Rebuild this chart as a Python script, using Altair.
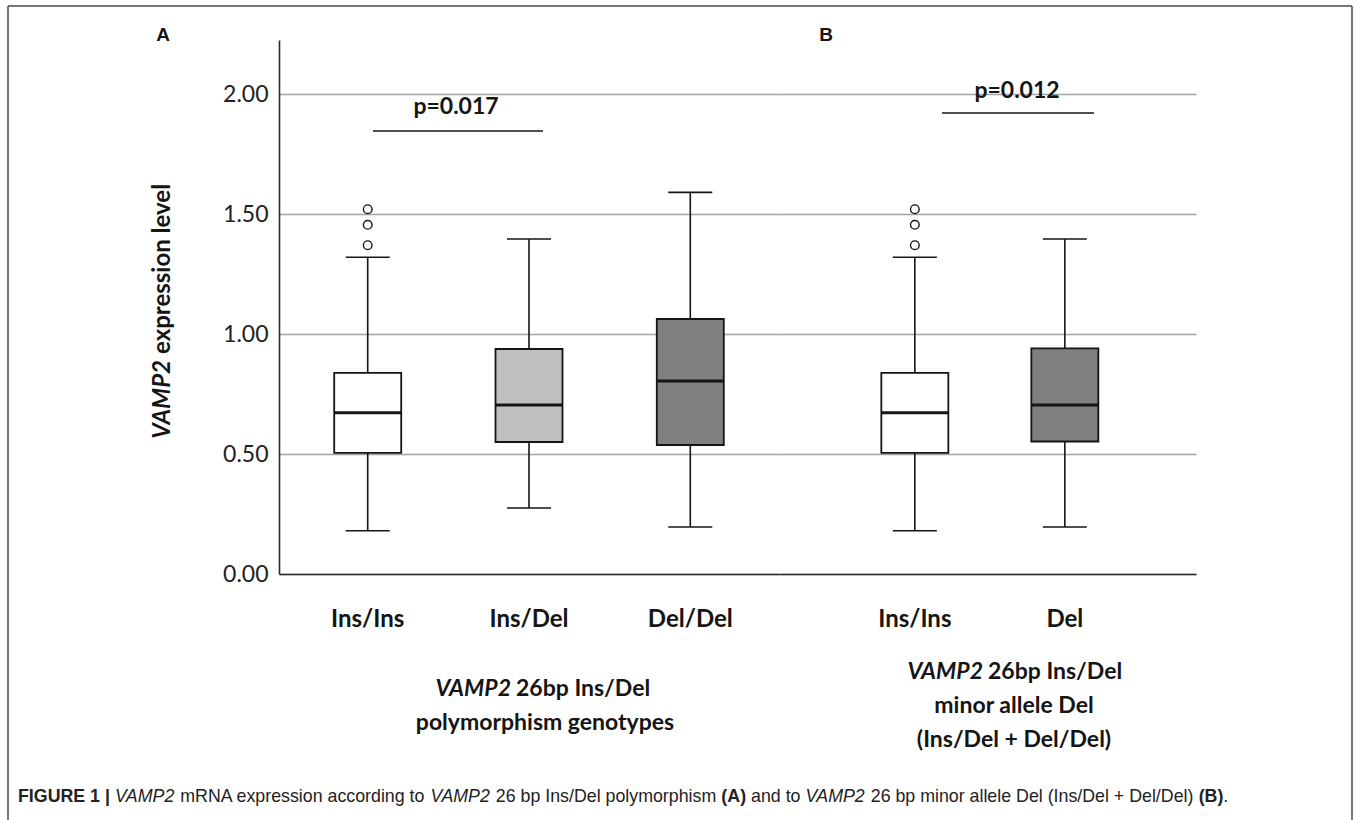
import altair as alt
import pandas as pd

# ---------------- data ----------------
a_groups = ["Ins/Ins", "Ins/Del", "Del/Del"]
a_lower = [0.18, 0.275, 0.196]
a_q1 = [0.505, 0.55, 0.5375]
a_median = [0.672, 0.704, 0.804]
a_q3 = [0.838, 0.9375, 1.0625]
a_upper = [1.32, 1.396, 1.59]
a_outlier_group = ["Ins/Ins", "Ins/Ins", "Ins/Ins"]
a_outlier_value = [1.37, 1.455, 1.52]

b_groups = ["Ins/Ins", "Del"]
b_lower = [0.18, 0.196]
b_q1 = [0.505, 0.552]
b_median = [0.672, 0.704]
b_q3 = [0.838, 0.94]
b_upper = [1.32, 1.396]
b_outlier_group = ["Ins/Ins", "Ins/Ins", "Ins/Ins"]
b_outlier_value = [1.37, 1.455, 1.52]

y_ticks = [0.0, 0.5, 1.0, 1.5, 2.0]
p_labels = ["p=0.017", "p=0.012"]
p_bar_y = [1.846, 1.921]
p_text_y = [1.946, 2.0125]

caption_texts = ["FIGURE 1 | ", "VAMP2", " mRNA expression according to ", "VAMP2",
                 " 26 bp Ins/Del polymorphism ", "(A)", " and to ", "VAMP2",
                 " 26 bp minor allele Del (Ins/Del + Del/Del) ", "(B)", "."]
caption_kind = ["b", "i", "r", "i", "r", "b", "r", "i", "r", "b", "r"]

# ---------------- styling ----------------
A_COLORS = ["#ffffff", "#c0c0c0", "#7f7f7f"]
B_COLORS = ["#ffffff", "#7f7f7f"]
INK = "#151515"
GRID = "#a3a3a3"
W_A, W_B, H = 500, 417, 534
OX, OY = 279, 40  # page offset of panel A plot origin

yscale = alt.Scale(domain=[0, 2.225], nice=False, zero=True)

# Arial / Liberation Sans advance widths (per 1000 em)
REG = {" ": 278, "(": 333, ")": 333, "+": 584, ".": 278, "/": 278, "|": 260,
       "1": 556, "2": 556, "6": 556, "A": 667, "B": 667, "D": 722, "E": 667,
       "F": 611, "G": 778, "I": 278, "M": 833, "N": 722, "P": 667, "R": 722,
       "U": 722, "V": 667, "a": 556, "b": 556, "c": 500, "d": 556, "e": 556,
       "g": 556, "h": 556, "i": 222, "l": 222, "m": 833, "n": 556, "o": 556,
       "p": 556, "r": 333, "s": 500, "t": 278, "x": 500, "y": 500}
BOLD = dict(REG)
BOLD.update({"|": 280, "A": 722, "B": 722, "R": 722, "U": 722, "G": 778, "F": 611})


def twidth(s, kind, size):
    tab = BOLD if kind == "b" else REG
    return sum(tab.get(c, 556) for c in s) * size / 1000.0


def txt(text, x, y, size=23, weight="bold", style="normal", align="center",
        font="Lato", angle=0, dx=0, color=INK):
    kw = dict(font=font, fontSize=size, fontWeight=weight, fontStyle=style,
              align=align, baseline="middle", color=color, dx=dx)
    if angle:
        kw["angle"] = angle
    return alt.Chart(pd.DataFrame({"t": [text]})).mark_text(**kw).encode(
        x=alt.value(x), y=alt.value(y), text="t:N")


def panel(groups, lower, q1, med, q3, upper, og, ov, colors, width, pad_outer,
          align, show_y):
    df = pd.DataFrame({"g": groups, "lower": lower, "q1": q1, "med": med,
                       "q3": q3, "upper": upper})
    odf = pd.DataFrame({"g": og, "v": ov})
    xaxis = alt.Axis(title=None, labelAngle=0, ticks=False, grid=False,
                     domainColor="#2a2a2a", domainWidth=1.6, labelFont="Lato",
                     labelFontWeight="bold", labelFontSize=24, labelColor=INK,
                     labelPadding=33)
    x = alt.X("g:N", sort=groups, axis=xaxis,
              scale=alt.Scale(paddingInner=0, paddingOuter=pad_outer, align=align))
    if show_y:
        yaxis = alt.Axis(title=None, values=y_ticks, format=".2f", grid=True,
                         gridColor=GRID, gridWidth=1.3, domainColor="#2a2a2a",
                         domainWidth=1.6, ticks=False, labelFont="Lato",
                         labelFontSize=23, labelColor="#222", labelPadding=11)
    else:
        yaxis = alt.Axis(title=None, values=y_ticks, grid=True, gridColor=GRID,
                         gridWidth=1.3, labels=False, ticks=False, domain=False)

    def Y(f):
        return alt.Y(f, scale=yscale, axis=yaxis, title=None)

    base = alt.Chart(df)
    whisk = base.mark_rule(color=INK, strokeWidth=1.6).encode(
        x=x, y=Y("lower:Q"), y2="upper:Q")
    box = base.mark_bar(size=67, stroke=INK, strokeWidth=1.8).encode(
        x=x, y=Y("q1:Q"), y2="q3:Q",
        fill=alt.Fill("g:N", scale=alt.Scale(domain=groups, range=colors),
                      legend=None))
    medl = base.mark_tick(size=67, thickness=3, color=INK, opacity=1).encode(
        x=x, y=Y("med:Q"))
    capu = base.mark_tick(size=44, thickness=1.6, color=INK, opacity=1).encode(
        x=x, y=Y("upper:Q"))
    capl = base.mark_tick(size=44, thickness=1.6, color=INK, opacity=1).encode(
        x=x, y=Y("lower:Q"))
    outl = alt.Chart(odf).mark_point(shape="circle", filled=False, size=75,
                                     stroke=INK, strokeWidth=1.4, opacity=1).encode(
        x=x, y=Y("v:Q"))
    return [whisk, box, medl, capu, capl, outl], Y


layers_a, YA = panel(a_groups, a_lower, a_q1, a_median, a_q3, a_upper,
                     a_outlier_group, a_outlier_value, A_COLORS, W_A, 0.05, 0.5, True)
layers_b, YB = panel(b_groups, b_lower, b_q1, b_median, b_q3, b_upper,
                     b_outlier_group, b_outlier_value, B_COLORS, W_B, 0.39, 0.52, False)

# significance bars
sig_a = alt.Chart(pd.DataFrame({"y": [p_bar_y[0]]})).mark_rule(
    color=INK, strokeWidth=1.6).encode(x=alt.value(373 - OX), x2=alt.value(543 - OX), y=YA("y:Q"))
sig_a_t = alt.Chart(pd.DataFrame({"y": [p_text_y[0]], "t": [p_labels[0]]})).mark_text(
    font="Lato", fontSize=23, fontWeight="bold", color=INK, baseline="middle").encode(
    x=alt.value(456 - OX), y=YA("y:Q"), text="t:N")
OXB = OX + W_A
sig_b = alt.Chart(pd.DataFrame({"y": [p_bar_y[1]]})).mark_rule(
    color=INK, strokeWidth=1.6).encode(x=alt.value(942 - OXB), x2=alt.value(1094 - OXB), y=YB("y:Q"))
sig_b_t = alt.Chart(pd.DataFrame({"y": [p_text_y[1]], "t": [p_labels[1]]})).mark_text(
    font="Lato", fontSize=23, fontWeight="bold", color=INK, baseline="middle").encode(
    x=alt.value(1017 - OXB), y=YB("y:Q"), text="t:N")

# page-level annotations (positions relative to panel A origin)
ann = []
one = pd.DataFrame({"a": [0]})
ann.append(alt.Chart(one).mark_rect(opacity=0).encode(
    x=alt.value(-OX), x2=alt.value(1357 - OX), y=alt.value(-OY), y2=alt.value(820 - OY)))
FR = "#4a4a4a"
ann.append(alt.Chart(one).mark_rule(color=FR, strokeWidth=1.5).encode(
    x=alt.value(8 - OX), x2=alt.value(1352 - OX), y=alt.value(6 - OY)))
ann.append(alt.Chart(one).mark_rule(color=FR, strokeWidth=1.5).encode(
    x=alt.value(8 - OX), y=alt.value(6 - OY), y2=alt.value(820 - OY)))
ann.append(alt.Chart(one).mark_rule(color=FR, strokeWidth=1.5).encode(
    x=alt.value(1352 - OX), y=alt.value(6 - OY), y2=alt.value(820 - OY)))

ann.append(txt("A", 163 - OX, 35 - OY, size=19, font="Liberation Sans"))
ann.append(txt("B", 826 - OX, 35 - OY, size=19, font="Liberation Sans"))

# y axis title (rotated): "VAMP2" italic + "expression level"
ann.append(txt("VAMP2", 163 - OX, 360 - OY, size=24, style="italic", align="right", angle=270))
ann.append(txt("expression level", 163 - OX, 360 - OY, size=24, align="left", angle=270, dx=6))

# group label A
ann.append(txt("VAMP2", 511 - OX, 689 - OY, style="italic", align="right"))
ann.append(txt("26bp Ins/Del", 511 - OX, 689 - OY, align="left", dx=5))
ann.append(txt("polymorphism genotypes", 545 - OX, 723 - OY))
# group label B
ann.append(txt("VAMP2", 983 - OX, 672 - OY, style="italic", align="right"))
ann.append(txt("26bp Ins/Del", 983 - OX, 672 - OY, align="left", dx=5))
ann.append(txt("minor allele Del", 1014 - OX, 706 - OY))
ann.append(txt("(Ins/Del + Del/Del)", 1014 - OX, 740 - OY))

# caption
CAP = 17.8
cx = 18.0
for s, k in zip(caption_texts, caption_kind):
    lead = len(s) - len(s.lstrip(" "))
    xs = cx + twidth(s[:lead], k, CAP)
    ann.append(txt(s.strip(), xs - OX, 797 - OY, size=CAP, font="Liberation Sans",
                   weight="bold" if k == "b" else "normal",
                   style="italic" if k == "i" else "normal", align="left", color="#222"))
    cx += twidth(s, k, CAP)

panel_a = alt.layer(*ann, *layers_a, sig_a, sig_a_t).properties(width=W_A, height=H)
panel_b = alt.layer(*layers_b, sig_b, sig_b_t).properties(width=W_B, height=H)

chart = alt.hconcat(panel_a, panel_b, spacing=0, bounds="flush").resolve_scale(
    fill="independent").properties(padding=0, background="white").configure_view(stroke=None)

chart.save("out.html", embed_options={"renderer": "svg", "actions": False})
